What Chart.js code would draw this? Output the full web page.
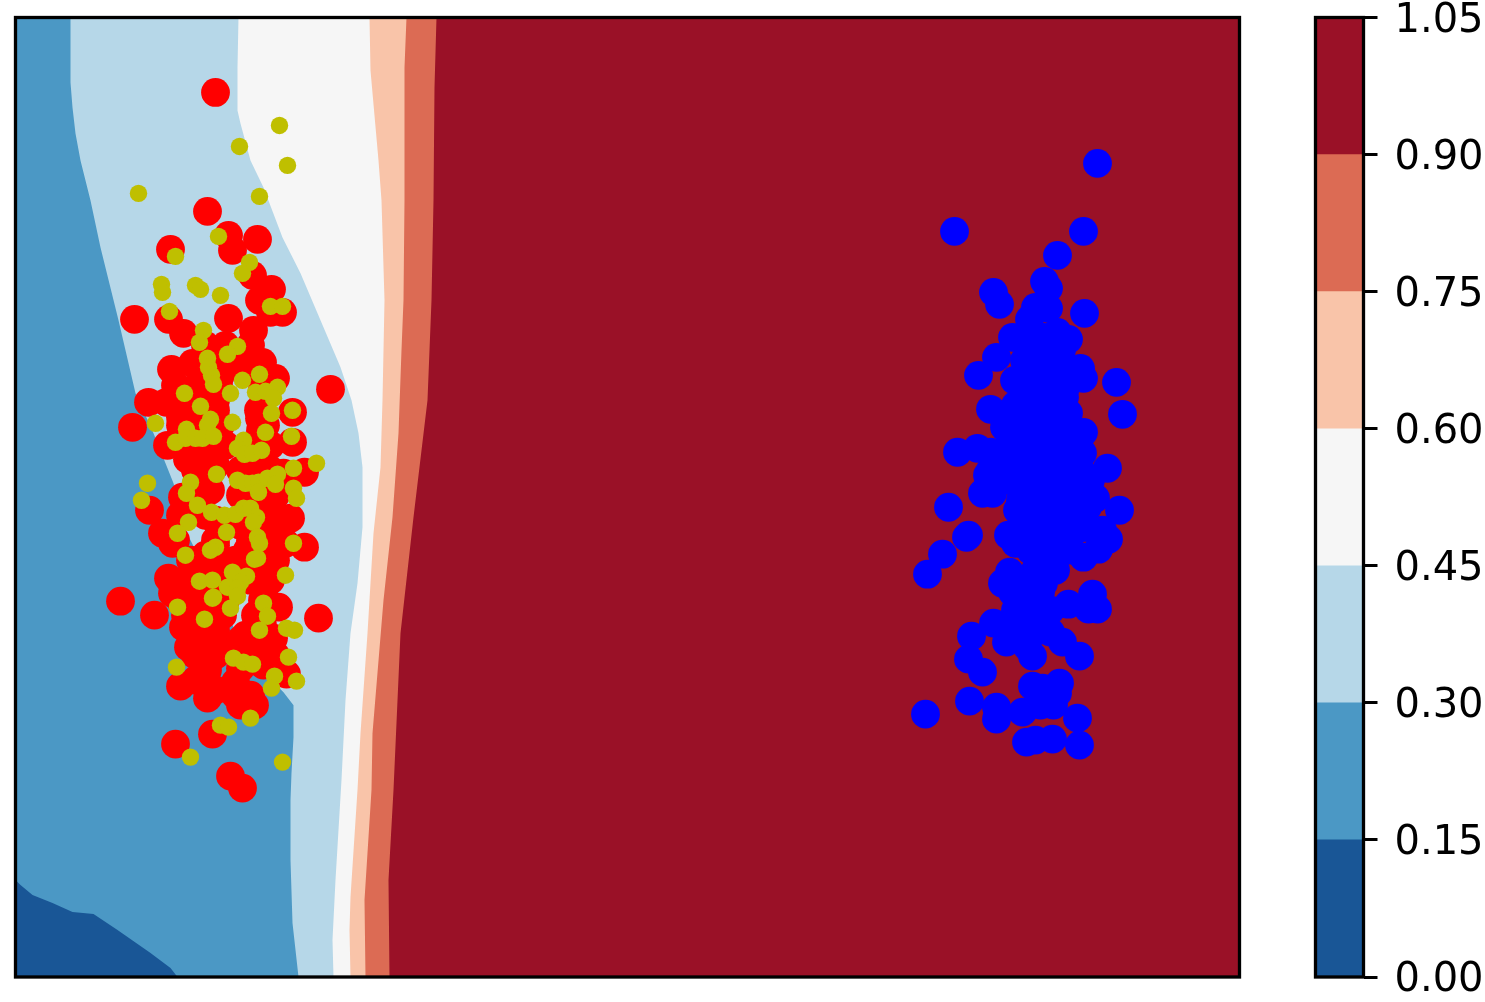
<!DOCTYPE html>
<html>
<head>
<meta charset="utf-8">
<title>contour chart</title>
<script src="https://cdn.jsdelivr.net/npm/chart.js"></script>
<style>
  html, body { margin: 0; padding: 0; background: #fff; overflow: hidden; }
  canvas { position: absolute; top: 0; }
  #main { left: 0; }
  #bar { left: 1280px; }
</style>
</head>
<body>
<canvas id="main" width="1280" height="1002"></canvas>
<canvas id="bar" width="205" height="1002"></canvas>
<script>
//data block
const xMax = 1224;
const yMax = 960;

// colour bands, low to high
const bandColors = ['#195696', '#4b98c5', '#b6d7e8', '#f6f6f6', '#f9c4a9', '#dc6b54', '#9a1127'];
const bandSizes = [0.15, 0.15, 0.15, 0.15, 0.15, 0.15, 0.15];
const barTicks = [0, 0.15, 0.30, 0.45, 0.60, 0.75, 0.90, 1.05];

// contour lines, each one runs top to bottom of the plot
const level015 = [[0,97],[5,92],[17,82],[37,74],[57,65],[78,63],[102,47],[135,24],[155,9],[162,0]];
const level030 = [[55,960],[55,895],[57,870],[60,844],[65,817],[75,777],[85,730],[103,657],[120,584],[138,544],[158,494],[170,447],[195,397],[217,352],[232,327],[253,300],[268,285],[278,272],[278,240],[276,204],[275,177],[275,117],[277,54],[283,0]];
const level045 = [[223,960],[222,910],[222,867],[225,854],[235,817],[248,790],[267,740],[285,704],[305,657],[325,610],[336,577],[343,544],[347,510],[347,450],[342,394],[335,344],[330,277],[326,197],[320,97],[317,37],[318,0]];
const level060 = [[354,960],[355,907],[363,817],[366,777],[369,677],[367,577],[365,510],[358,444],[352,344],[345,244],[342,187],[335,80],[334,47],[335,0]];
const level075 = [[391,960],[389,910],[389,777],[388,677],[386,627],[383,544],[377,460],[368,377],[357,244],[356,187],[349,77],[350,0]];
const level090 = [[421,960],[419,890],[418,777],[416,677],[412,577],[398,460],[385,344],[378,187],[373,97],[374,0]];

const redPoints = [[200,885],[192,766],[213,742],[217,727],[242,738],[155,728],[237,702],[256,688],[244,677],[267,665],[119,658],[153,658],[213,659],[168,644],[238,647],[255,665],[247,615],[156,608],[260,599],[177,614],[218,614],[133,575],[151,575],[315,588],[277,565],[117,550],[277,535],[244,559],[165,560],[152,532],[172,518],[289,505],[268,504],[167,480],[134,467],[147,444],[157,434],[275,459],[289,430],[258,454],[270,434],[105,376],[139,362],[153,399],[157,384],[168,350],[173,330],[303,359],[263,370],[258,339],[271,303],[165,291],[192,279],[220,282],[239,272],[225,272],[197,243],[160,233],[215,201],[227,189],[220,295],[192,307],[248,312],
  [185,597],[205,602],[235,607],[175,577],[200,577],[200,567],[190,547],[210,532],[185,527],[243,567],[245,547],[200,512],[225,507],[245,512],[195,487],[225,482],[250,477],[200,457],[225,452],[255,467],[190,422],[200,432],[232,427],[260,417],[180,412],[200,407],[225,412],[250,392],[185,377],[210,377],[240,362],[200,347],[225,337],[247,352],[190,327],[220,327],[240,332],[225,309],
  [190,632],[210,632],[235,632],[190,612],[200,612],[160,592],[185,592],[203,592],[247,592],[165,552],[185,552],[205,552],[250,552],[165,532],[190,532],[235,532],[255,532],[180,507],[235,507],[255,507],[170,477],[188,490],[235,480],[260,482],[165,462],[190,462],[230,462],[250,462],[160,437],[200,437],[235,437],[255,437],[175,417],[200,417],[220,417],[240,417],[170,397],[190,397],[215,397],[235,397],[255,397],[165,377],[207,377],[247,377],[170,362],[190,362],[207,362],[243,362],[180,342],[197,342],[230,342],[250,342],[180,322],[200,322],[225,322],[245,322],[260,322],[180,297],[200,287],[235,282],[190,499],[178,470]];

const yellowPoints = [[264,852],[224,831],[272,812],[123,784],[244,781],[203,741],[160,721],[234,715],[227,704],[146,693],[147,685],[180,692],[185,688],[205,682],[255,671],[267,671],[154,666],[188,647],[184,635],[222,631],[212,623],[192,619],[193,610],[196,602],[198,593],[227,597],[244,603],[169,584],[215,584],[240,585],[250,586],[262,590],[258,579],[256,564],[277,567],[185,571],[195,558],[192,552],[217,555],[140,554],[171,548],[160,535],[170,539],[180,539],[187,539],[198,541],[276,541],[250,545],[228,537],[222,529],[229,523],[237,524],[246,527],[301,514],[278,509],[201,503],[132,494],[175,495],[171,484],[222,497],[230,494],[237,494],[243,495],[252,499],[262,503],[260,493],[243,485],[278,489],[281,479],[126,477],[182,472],[196,465],[209,462],[220,463],[228,469],[235,469],[241,460],[238,455],[173,455],[162,444],[211,445],[242,440],[244,434],[278,434],[200,430],[195,427],[170,422],[242,419],[239,418],[270,402],[217,405],[231,401],[184,396],[197,397],[225,395],[212,390],[222,389],[222,381],[198,380],[197,379],[248,374],[162,370],[215,369],[252,361],[189,358],[244,347],[271,349],[279,347],[218,319],[228,315],[237,313],[273,320],[161,310],[259,301],[281,296],[256,289],[235,259],[205,252],[213,250],[175,220],[267,215]];

const bluePoints = [[1082,814],[939,746],[1068,746],[1042,722],[1029,696],[1033,689],[978,685],[984,673],[1069,664],[1020,670],[1033,669],[1014,658],[1042,645],[1053,638],[997,640],[1012,640],[1028,640],[1046,627],[981,620],[1009,617],[963,602],[999,597],[1029,605],[1065,609],[1068,599],[1101,595],[1107,563],[975,568],[1049,580],[1053,564],[1068,545],[989,550],[942,525],[962,529],[1067,524],[1092,509],[1005,577],[1025,584],[1038,587],[1018,554],[1038,554],[972,502],[967,484],[977,484],[933,470],[1104,467],[1080,479],[1002,467],[1072,470],[953,442],[951,440],[927,423],[912,403],[993,442],[1000,434],[1093,438],[1087,447],[1083,428],[1068,420],[1027,424],[1033,414],[994,405],[987,394],[1028,394],[997,385],[1017,394],[1077,383],[1082,368],[1073,368],[1053,373],[1035,367],[978,354],[956,341],[953,318],[967,305],[1002,357],[1018,367],[991,335],[1012,330],[1017,321],[1047,335],[1064,321],[1025,347],[1017,291],[1044,294],[1042,284],[1027,289],[1025,272],[1038,272],[1007,265],[981,270],[981,258],[954,276],[910,263],[1062,259],[1064,232],[1011,235],[1020,237],[1037,238],
  [995,537],[1015,537],[1035,537],[1055,532],[985,517],[1005,517],[1025,517],[1045,512],[1065,507],[995,497],[1015,497],[1035,497],[1055,492],[1075,497],[1005,477],[1025,477],[1045,477],[1060,467],[1020,457],[1040,452],[1060,447],[1025,437],[1045,432],[1013,447],[1000,572],[1020,567],[1043,572],[1005,377],[1025,617],[1040,612],[1045,602],
  [1015,602],[1035,602],[1050,602],[1015,590],[1035,590],[1050,590],[1005,560],[1025,560],[1045,560],[1000,545],[1020,547],[1040,545],[1058,545],[975,525],[1005,527],[1025,527],[1045,527],[1065,527],[975,507],[1010,507],[1030,507],[1050,507],[1015,467],[1035,467],[1050,467],[1005,447],[1030,447],[1050,447],[1070,450],[1015,427],[1035,427],[1055,427],[1020,407],[1040,407],[1010,387],[1025,385],[1000,367],[1025,365],[995,347],[1010,347],[1035,345]];

//helpers
const toXY = (list) => list.map(p => ({ x: p[0], y: p[1] }));

// region left of a contour line, closed along the left edge
const leftOf = (line) => toXY(line.concat([[0, 0], [0, yMax]]));

const band = (points, color, order) => ({
  data: points,
  showLine: true,
  fill: 'shape',
  backgroundColor: color,
  borderColor: 'transparent',
  borderWidth: 0,
  pointRadius: 0,
  order: order
});

const dots = (list, color, radius, order) => ({
  data: toXY(list),
  showLine: false,
  backgroundColor: color,
  borderWidth: 0,
  pointRadius: radius,
  pointHoverRadius: radius,
  order: order
});

// black box round the plot area, drawn over the fills
const frame = {
  id: 'frame',
  afterDraw(chart) {
    const a = chart.chartArea;
    const ctx = chart.ctx;
    ctx.save();
    ctx.strokeStyle = '#000';
    ctx.lineWidth = 3.3;
    ctx.strokeRect(a.left, a.top, a.right - a.left, a.bottom - a.top);
    ctx.restore();
  }
};

//main chart
const mainChart = new Chart(document.getElementById('main'), {
  type: 'scatter',
  data: {
    datasets: [
      dots(yellowPoints, '#bfbf00', 8.7, 1),
      dots(redPoints, '#ff0000', 14.4, 2),
      dots(bluePoints, '#0000ff', 14.4, 3),
      band(leftOf(level015), bandColors[0], 4),
      band(leftOf(level030), bandColors[1], 5),
      band(leftOf(level045), bandColors[2], 6),
      band(leftOf(level060), bandColors[3], 7),
      band(leftOf(level075), bandColors[4], 8),
      band(leftOf(level090), bandColors[5], 9),
      band(toXY([[0, 0], [0, yMax], [xMax, yMax], [xMax, 0]]), bandColors[6], 10)
    ]
  },
  options: {
    responsive: false,
    animation: false,
    layout: { padding: { left: 15.5, right: 40.5, top: 17.5, bottom: 25 } },
    plugins: { legend: { display: false }, tooltip: { enabled: false } },
    scales: {
      x: { display: false, min: 0, max: xMax },
      y: { display: false, min: 0, max: yMax }
    }
  },
  plugins: [frame]
});

//colour bar
const barChart = new Chart(document.getElementById('bar'), {
  type: 'bar',
  data: {
    labels: [''],
    datasets: bandSizes.map((size, i) => ({
      data: [size],
      backgroundColor: bandColors[i],
      borderWidth: 0,
      barPercentage: 1,
      categoryPercentage: 1
    }))
  },
  options: {
    responsive: false,
    animation: false,
    layout: { padding: { left: 35.5, right: 0, top: 17.5, bottom: 25 } },
    plugins: { legend: { display: false }, tooltip: { enabled: false } },
    scales: {
      x: { display: false, stacked: true },
      y: {
        stacked: true,
        position: 'right',
        min: 0,
        max: 1.05,
        afterBuildTicks: (scale) => { scale.ticks = barTicks.map(v => ({ value: v })); },
        afterFit: (scale) => { // keep the bar where it is, labels may stick out
          scale.width = 121.5;
          scale.paddingTop = 0;
          scale.paddingBottom = 0;
        },
        border: { display: false },
        grid: { drawOnChartArea: false, drawTicks: true, tickLength: 14, tickColor: '#000', tickWidth: 3, color: '#000' },
        ticks: {
          color: '#000',
          padding: 17,
          labelOffset: 4,
          autoSkip: false,
          font: { family: 'DejaVu Sans', size: 40 },
          callback: (v) => v.toFixed(2)
        }
      }
    }
  },
  plugins: [frame]
});
</script>
</body>
</html>
